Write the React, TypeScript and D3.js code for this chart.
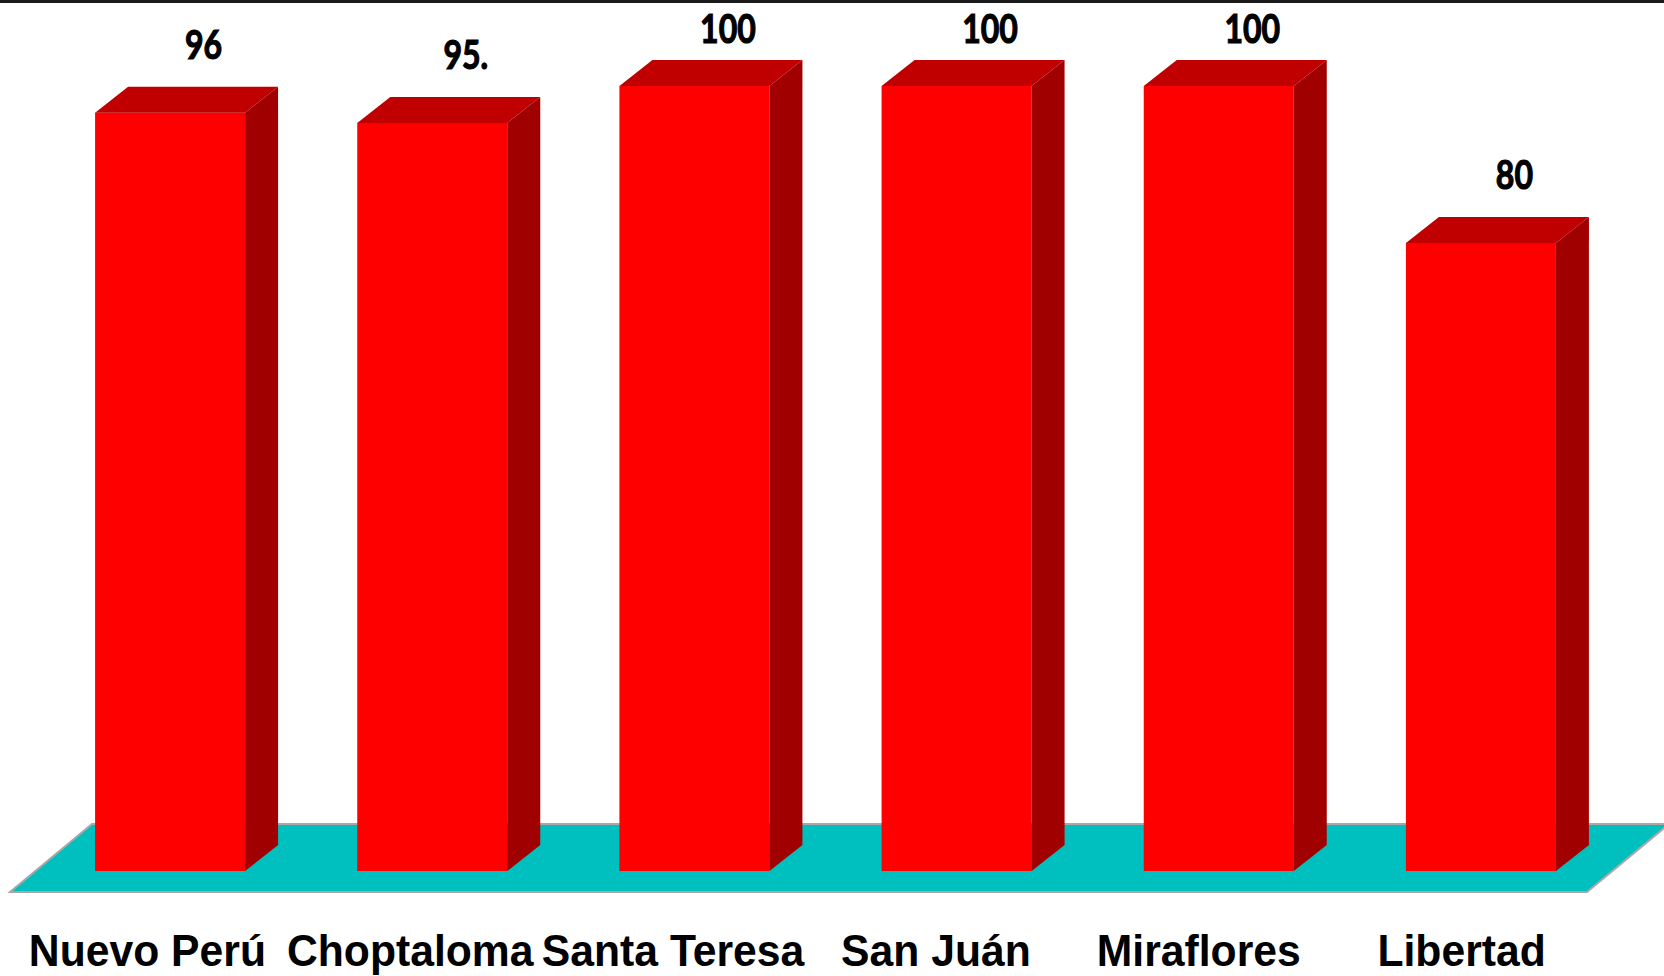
import { useEffect, useRef } from 'react'
import * as d3 from 'd3'

const categories = ['Nuevo Perú', 'Choptaloma', 'Santa Teresa', 'San Juán', 'Miraflores', 'Libertad']
const values = [96.6, 95.3, 100, 100, 100, 80]
const valueLabels = ['96', '95.', '100', '100', '100', '80']

const WIDTH = 1664
const HEIGHT = 976
const BAR_W = 150
const DEPTH_X = 33
const DEPTH_Y = 26
const BASE_Y = 871
const FLOOR_FRONT = 892
const FLOOR_BACK = 824
const FLOOR_DX = 82

const FRONT = '#FF0000'
const TOP = '#C00000'
const SIDE = '#A00000'

export default function App() {
  const svgRef = useRef<SVGSVGElement>(null)

  useEffect(() => {
    document.body.style.margin = '0'
    const svg = d3.select(svgRef.current)
    svg.selectAll('*').remove()

    const y = d3.scaleLinear([0, 100], [BASE_Y, 86])
    const xBar = d3.scaleBand(categories, [39, 1612])
    const xFloor = d3.scaleBand(categories, [10, 1587])
    const pad = (xBar.step() - BAR_W) / 2

    svg.append('rect').attr('width', WIDTH).attr('height', HEIGHT).attr('fill', '#fff')

    // top border
    svg.append('rect').attr('x', 0).attr('y', 0).attr('width', WIDTH).attr('height', 3).attr('fill', '#1a1a1a')

    // ── floor ──
    const [fl, fr] = xFloor.range()
    svg.append('polygon')
      .attr('points', [
        [fl, FLOOR_FRONT], [fl + FLOOR_DX, FLOOR_BACK],
        [fr + FLOOR_DX, FLOOR_BACK], [fr, FLOOR_FRONT],
      ].map(p => p.join(',')).join(' '))
      .attr('fill', '#00BFBF').attr('stroke', '#a8a8a8').attr('stroke-width', 2)

    // ── bars ──
    const g = svg.append('g')
    const pts = (arr: number[][]) => arr.map(p => p.join(',')).join(' ')
    categories.forEach((c, i) => {
      const x0 = (xBar(c) ?? 0) + pad
      const x1 = x0 + BAR_W
      const yt = y(values[i])

      g.append('rect')
        .attr('x', x0).attr('y', yt).attr('width', BAR_W).attr('height', BASE_Y - yt)
        .attr('fill', FRONT)
      g.append('polygon')
        .attr('points', pts([[x0, yt], [x0 + DEPTH_X, yt - DEPTH_Y], [x1 + DEPTH_X, yt - DEPTH_Y], [x1, yt]]))
        .attr('fill', TOP)
      g.append('polygon')
        .attr('points', pts([[x1, yt], [x1 + DEPTH_X, yt - DEPTH_Y], [x1 + DEPTH_X, BASE_Y - DEPTH_Y], [x1, BASE_Y]]))
        .attr('fill', SIDE)

      // value label
      const lx = x0 + BAR_W / 2 + DEPTH_X / 2 + 17
      const ly = Math.max(43, yt - DEPTH_Y - 28)
      g.append('text')
        .attr('transform', `translate(${lx},${ly}) scale(0.8,1)`)
        .attr('text-anchor', 'middle')
        .attr('font-family', 'Lato, "Open Sans", sans-serif')
        .attr('font-weight', 700).attr('font-size', 40)
        .attr('fill', '#000').attr('stroke', '#000').attr('stroke-width', 1.2)
        .text(valueLabels[i])
    })

    // ── category labels ──
    categories.forEach(c => {
      const cx = (xFloor(c) ?? 0) + xFloor.bandwidth() / 2 + 6
      svg.append('text')
        .attr('transform', `translate(${cx},966) scale(0.97,1)`)
        .attr('text-anchor', 'middle')
        .attr('font-family', '"Liberation Sans", Arial, sans-serif')
        .attr('font-weight', 700).attr('font-size', 44).attr('fill', '#000')
        .text(c)
    })
  }, [])

  return <svg ref={svgRef} width={WIDTH} height={HEIGHT} style={{ display: 'block' }} />
}
